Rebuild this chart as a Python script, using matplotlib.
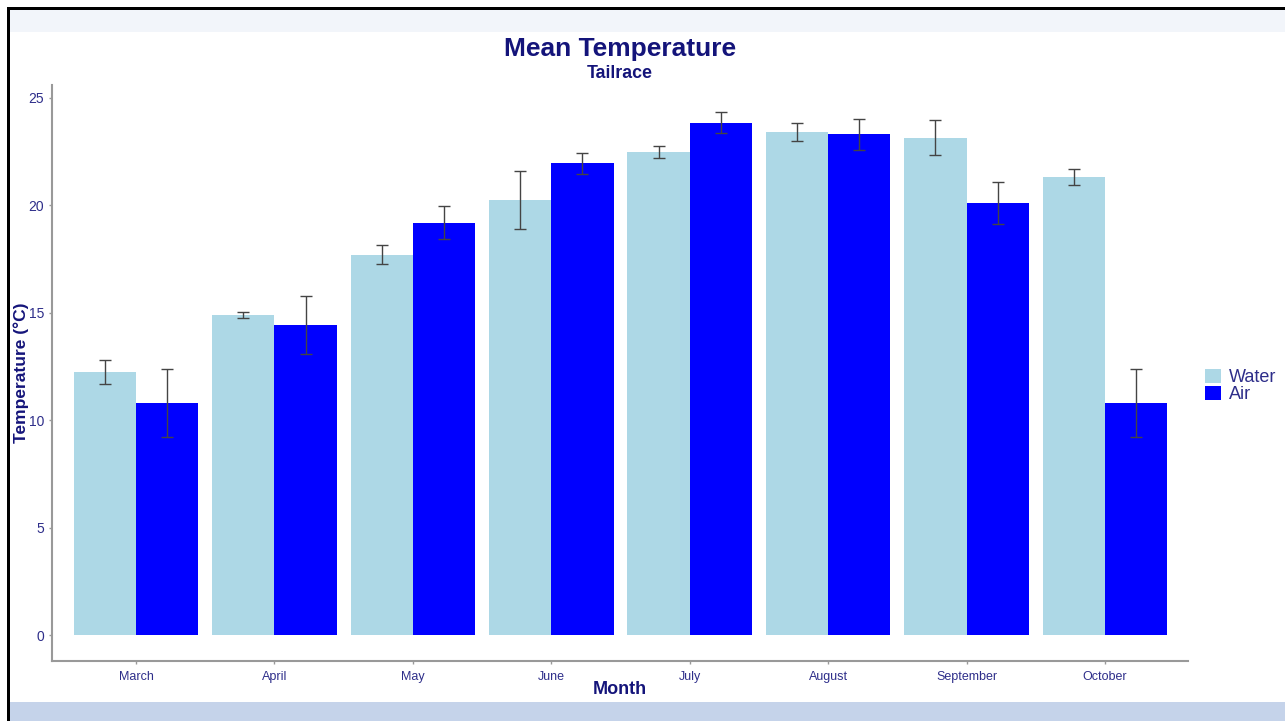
import numpy as np
import matplotlib
matplotlib.use("Agg")
import matplotlib.pyplot as plt
from matplotlib.patches import Rectangle, Patch

plt.rcParams['font.family'] = ['Liberation Sans', 'DejaVu Sans']

# Data
months = ['March', 'April', 'May', 'June', 'July', 'August', 'September', 'October']
water = [12.25, 14.9, 17.7, 20.25, 22.5, 23.4, 23.15, 21.3]
water_err = [0.56, 0.14, 0.44, 1.35, 0.28, 0.42, 0.81, 0.37]
air = [10.8, 14.45, 19.2, 21.95, 23.85, 23.3, 20.1, 10.8]
air_err = [1.58, 1.35, 0.75, 0.47, 0.49, 0.74, 0.98, 1.58]
yticks = [0, 5, 10, 15, 20, 25]

W, H = 1285, 721
fig = plt.figure(figsize=(W / 100, H / 100), dpi=100)

def px(x, y):
    return x / W, 1 - y / H

# frame of the screenshot
fig.patches.append(Rectangle(px(10, 32), 1275 / W, 23 / H, transform=fig.transFigure,
                             facecolor='#f2f5fa', edgecolor='none', zorder=0))
fig.patches.append(Rectangle(px(10, 721), 1275 / W, 19 / H, transform=fig.transFigure,
                             facecolor='#c5d3ea', edgecolor='none', zorder=0))
fig.patches.append(Rectangle(px(7, 721), 3 / W, 714 / H, transform=fig.transFigure,
                             facecolor='black', edgecolor='none', zorder=1))
fig.patches.append(Rectangle(px(7, 10), 1278 / W, 3 / H, transform=fig.transFigure,
                             facecolor='black', edgecolor='none', zorder=1))

l, b = px(52, 661)
ax = fig.add_axes([l, b, (1188 - 52) / W, (661 - 85) / H])

x = np.arange(len(months))
bw = 0.45
ax.bar(x - bw / 2, water, width=bw, color='#add8e6', label='Water')
ax.bar(x + bw / 2, air, width=bw, color='#0000ff', label='Air')
ax.errorbar(x - bw / 2, water, yerr=water_err, fmt='none', ecolor='#444444',
            elinewidth=1, capsize=4.5, capthick=1)
ax.errorbar(x + bw / 2, air, yerr=air_err, fmt='none', ecolor='#444444',
            elinewidth=1, capsize=4.5, capthick=1)

ax.set_xlim(-0.607, 7.6)
ax.set_ylim(-1.21, 25.6)
ax.set_xticks(x)
ax.set_xticklabels(months, fontsize=9, color='#2e2e8a')
ax.set_yticks(yticks)
ax.set_yticklabels([str(t) for t in yticks], fontsize=10, color='#2e2e8a')
ax.tick_params(axis='both', colors='#999999', length=2.5, width=1)
ax.tick_params(axis='x', labelcolor='#2e2e8a', pad=5)
ax.tick_params(axis='y', labelcolor='#2e2e8a', pad=3)
for s in ['top', 'right']:
    ax.spines[s].set_visible(False)
for s in ['left', 'bottom']:
    ax.spines[s].set_color('#999999')
    ax.spines[s].set_linewidth(1.5)

fig.text(*px(620, 49), 'Mean Temperature', ha='center', va='center',
         fontsize=19, fontweight='bold', color='#14147a')
fig.text(*px(620, 73), 'Tailrace', ha='center', va='center',
         fontsize=12.8, fontweight='bold', color='#14147a')
fig.text(*px(620, 689), 'Month', ha='center', va='center',
         fontsize=13, fontweight='bold', color='#14147a')
fig.text(*px(21, 373), 'Temperature (°C)', ha='center', va='center', rotation=90,
         fontsize=12.5, fontweight='bold', color='#14147a')

handles = [Patch(facecolor='#add8e6', label='Water'), Patch(facecolor='#0000ff', label='Air')]
leg = fig.legend(handles=handles, loc='center left', bbox_to_anchor=px(1189, 386),
                 frameon=False, fontsize=13, handlelength=0.85, handleheight=0.85,
                 labelspacing=0.0, handletextpad=0.45)
for t in leg.get_texts():
    t.set_color('#2e2e8a')

fig.savefig('out.png', dpi=100)
